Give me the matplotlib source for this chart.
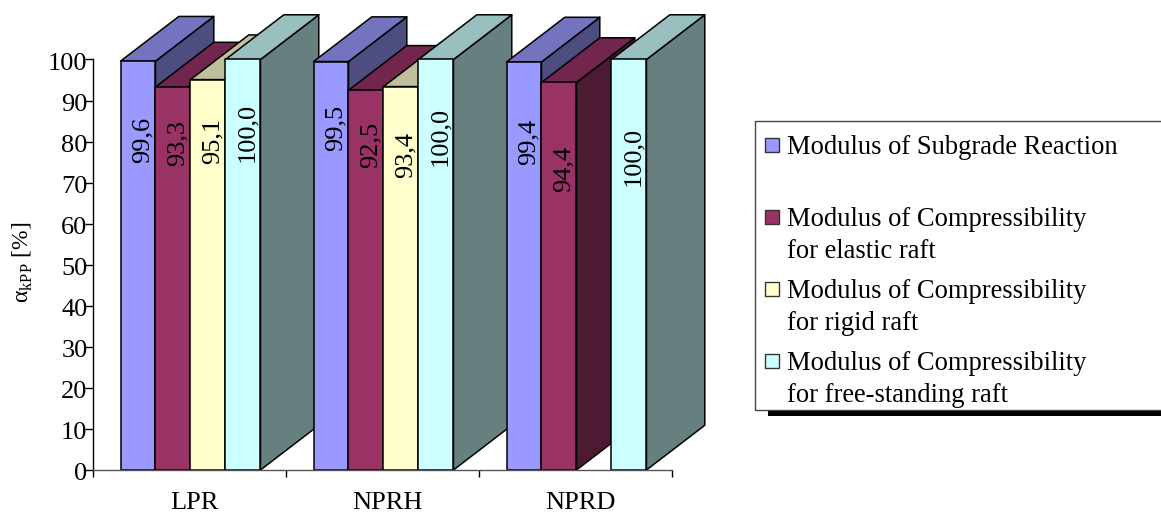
import matplotlib
matplotlib.use("Agg")
import matplotlib.pyplot as plt
from matplotlib.patches import Polygon, Rectangle
from matplotlib.colors import to_rgb
from matplotlib.transforms import ScaledTranslation

plt.rcParams['font.family'] = ['Liberation Serif', 'DejaVu Serif']
plt.rcParams['mathtext.fontset'] = 'custom'
plt.rcParams['mathtext.rm'] = 'Liberation Serif'
plt.rcParams['mathtext.fallback'] = 'stix'

categories = ["LPR", "NPRH", "NPRD"]
series_names = ["Modulus of Subgrade Reaction",
                "Modulus of Compressibility\nfor elastic raft",
                "Modulus of Compressibility\nfor rigid raft",
                "Modulus of Compressibility\nfor free-standing raft"]
subgrade = [99.6, 99.5, 99.4]
elastic = [93.3, 92.5, 94.4]
rigid = [95.1, 93.4, None]
free_standing = [100.0, 100.0, 100.0]
series = [subgrade, elastic, rigid, free_standing]
yticks = list(range(0, 101, 10))

colors = ["#9999FF", "#993366", "#FFFFCC", "#CCFFFF"]
W, H = 1161, 512
FS = 19.0


def shade(c, f):
    return tuple(v * f for v in to_rgb(c))


fig = plt.figure(figsize=(W / 100, H / 100), dpi=100)
x0, x1, ytop, ybot = 93, 672, 59.5, 470
ax = fig.add_axes([x0 / W, 1 - ybot / H, (x1 - x0) / W, (ybot - ytop) / H])
ax.set_xlim(0, 3)
ax.set_ylim(0, 100)
ax.patch.set_alpha(0)
for s in ("top", "right"):
    ax.spines[s].set_visible(False)
ax.spines["left"].set_linewidth(1.0)
ax.spines["bottom"].set_linewidth(1.0)
ax.spines["bottom"].set_color("#555555")
ax.set_yticks(yticks)
ax.set_xticks([0, 1, 2, 3])
ax.set_xticklabels([])
ax.tick_params(axis="y", length=6, width=1.0, labelsize=FS, pad=-2)
ax.tick_params(axis="x", length=5, width=1.0)
shift = ScaledTranslation(0, -2 / 100, fig.dpi_scale_trans)
for lab in ax.get_yticklabels():
    lab.set_transform(lab.get_transform() + shift)
for i, c in enumerate(categories):
    ax.text(i + 0.526, -8.1, c, ha="center", va="center", fontsize=FS, clip_on=False)

ax.text(-0.121, 50.7, r"$\mathrm{\alpha}_{\mathrm{kPP}}$ [%]", rotation=90, ha="center",
        va="center", fontsize=17, transform=ax.get_yaxis_transform(), clip_on=False)

# bar layout in axis units
off, bw = 0.1425, 0.1813
dx, dy = 58.3 / 193, 44.7 / 4.105
# label anchor: lower end of each rotated label in value units
label_base = [[74.8, 74.1, 74.5, 75.0],
              [77.7, 73.6, 71.1, 74.1],
              [74.3, 67.7, None, 69.2]]
for c in range(3):
    for j, vals in enumerate(series):
        v = vals[c]
        if v is None:
            continue
        L = c + off + j * bw
        R = L + bw
        kw = dict(edgecolor="black", linewidth=1.1, joinstyle="round", clip_on=False)
        ax.add_patch(Polygon([(R, 0), (R + dx, dy), (R + dx, v + dy), (R, v)],
                             facecolor=shade(colors[j], 0.5), **kw))
        ax.add_patch(Polygon([(L, v), (R, v), (R + dx, v + dy), (L + dx, v + dy)],
                             facecolor=shade(colors[j], 0.75), **kw))
        ax.add_patch(Rectangle((L, 0), bw, v, facecolor=colors[j], **kw))
        ax.text((L + R) / 2 + 0.022, label_base[c][j], f"{v:.1f}".replace(".", ","),
                rotation=90, ha="center", va="bottom", fontsize=FS, clip_on=False,
                rotation_mode="default", zorder=5)


# legend drawn in pixel coordinates of the figure
def fx(x): return x / W
def fy(y): return 1 - y / H


fig.add_artist(Rectangle((fx(768), fy(415.5)), (W - 768) / W, 6.5 / H, transform=fig.transFigure,
                         facecolor="black", edgecolor="none"))
fig.add_artist(Rectangle((fx(755), fy(409.5)), (W + 5 - 755) / W, 288.5 / H, transform=fig.transFigure,
                         facecolor="white", edgecolor="#444444", linewidth=1.0))
text_y = [144.5, 216.5, 289, 360.5]
for name, col, ty in zip(series_names, colors, text_y):
    fig.add_artist(Rectangle((fx(764.5), fy(ty + 7)), 14 / W, 14 / H, transform=fig.transFigure,
                             facecolor=col, edgecolor="#333333", linewidth=1.0))
    fig.text(fx(787), fy(ty - 10), name, ha="left", va="top", fontsize=19.1, linespacing=1.37)

fig.savefig("out.png", dpi=100)
